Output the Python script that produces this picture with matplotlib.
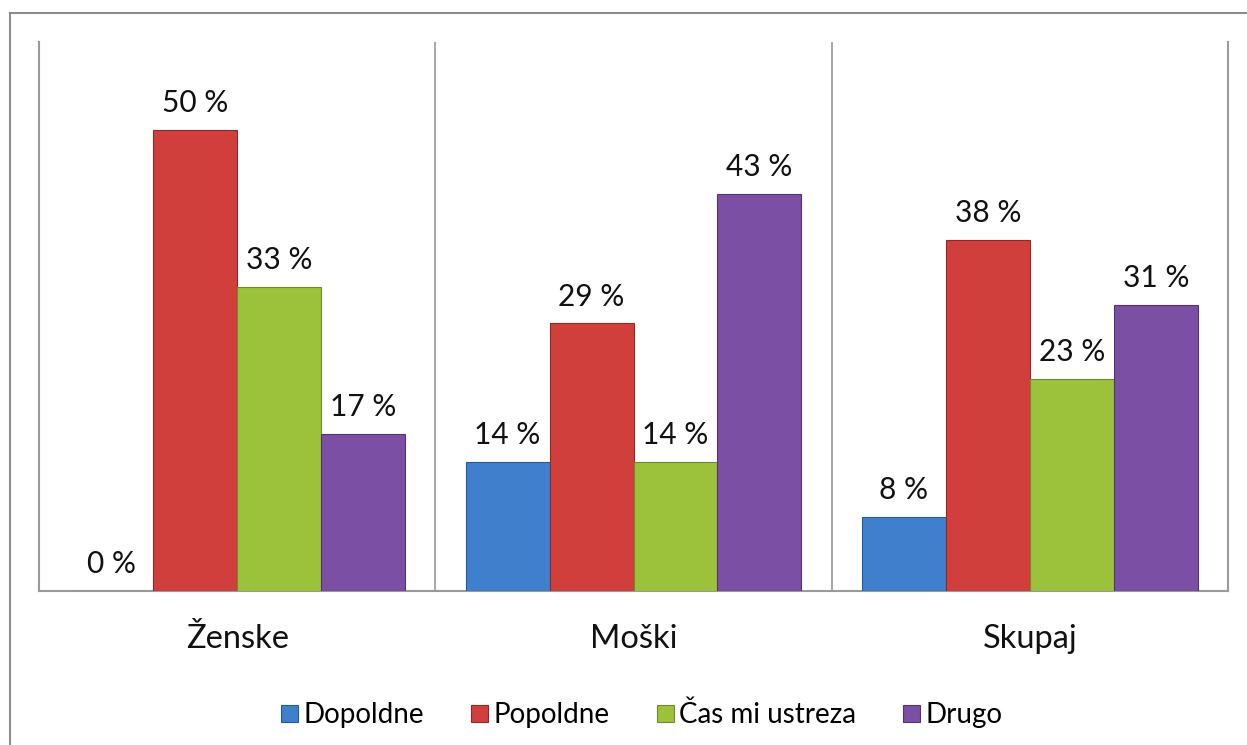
import matplotlib
matplotlib.use('Agg')
import matplotlib.pyplot as plt
from matplotlib.lines import Line2D
import numpy as np

plt.rcParams['font.family'] = ['Lato', 'DejaVu Sans']

categories = ['Ženske', 'Moški', 'Skupaj']
series = ['Dopoldne', 'Popoldne', 'Čas mi ustreza', 'Drugo']
values = {
    'Dopoldne': [0, 14, 8],
    'Popoldne': [50, 29, 38],
    'Čas mi ustreza': [33, 14, 23],
    'Drugo': [17, 43, 31],
}
colors = ['#3f7fcb', '#d13f3c', '#9cc23c', '#7b4fa3']
edges = ['#2a5a94', '#8f2a27', '#6f8a2a', '#553570']

W, H = 1247, 745
fig = plt.figure(figsize=(W / 100, H / 100), dpi=100)
ax = fig.add_axes([39 / W, 1 - 591 / H, (1228 - 39) / W, (591 - 42) / H])

x = np.arange(len(categories))
bw = 84 / 396.5
for i, name in enumerate(series):
    pos = x + (i - 1.5) * bw
    vals = values[name]
    ax.bar(pos, vals, width=bw, color=colors[i], edgecolor=edges[i],
           linewidth=0.8, zorder=3)
    for px, v in zip(pos, vals):
        ax.text(px, v + 1.4, f'{v} %', ha='center', va='bottom',
                fontsize=21.5, color='#111111')

ax.set_xlim(-0.5, len(categories) - 0.5)
ax.set_ylim(0, 59.5)
for b in [0.5, 1.5]:
    ax.axvline(b, color='#9a9a9a', linewidth=1.2, zorder=1)

ax.set_xticks(x)
ax.set_xticklabels(categories, fontsize=23.5, color='#111111')
ax.tick_params(axis='x', length=0, pad=24)
ax.set_yticks([])
ax.spines['top'].set_visible(False)
for s in ['left', 'right', 'bottom']:
    ax.spines[s].set_color('#9a9a9a')
    ax.spines[s].set_linewidth(1.5)

# outer chart frame (right and bottom edges lie outside the picture)
fig.add_artist(Line2D([10 / W, 1.0], [1 - 13 / H, 1 - 13 / H],
                      color='#8c8c8c', linewidth=1.5))
fig.add_artist(Line2D([10 / W, 10 / W], [1 - 13 / H, 0.0],
                      color='#8c8c8c', linewidth=1.5))

handles = [plt.Rectangle((0, 0), 1, 1, facecolor=c, edgecolor=e, linewidth=0.8)
           for c, e in zip(colors, edges)]
fig.legend(handles, series, loc='center', bbox_to_anchor=(642 / W, 1 - 715 / H),
           ncol=4, frameon=False, fontsize=20, handlelength=0.6,
           handleheight=0.6, handletextpad=0.2, columnspacing=1.7)

fig.savefig('out.png', dpi=100)
